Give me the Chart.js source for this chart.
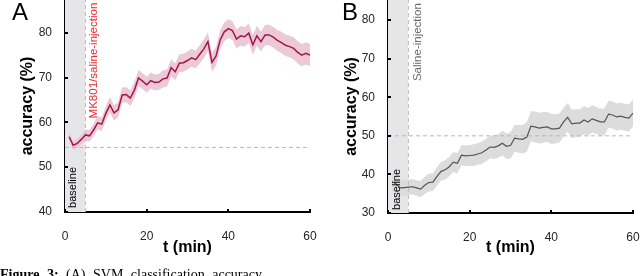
<!DOCTYPE html>
<html>
<head>
<meta charset="utf-8">
<script src="https://cdn.jsdelivr.net/npm/chart.js@4/dist/chart.umd.min.js"></script>
<style>
body{margin:0;background:#fff;width:640px;height:276px;overflow:hidden;position:relative;font-family:'Liberation Sans',Arial,sans-serif}
canvas{position:absolute;top:0}
.letter{position:absolute;top:0;font-size:24px;line-height:24px;color:#000}
.caption{position:absolute;left:0;top:268px;font-family:'Liberation Serif',serif;font-size:14px;line-height:14px;white-space:nowrap;color:#000;word-spacing:4px}
</style>
</head>
<body>
<canvas id="chartA" width="320" height="276" style="left:0"></canvas>
<canvas id="chartB" width="320" height="276" style="left:320px"></canvas>
<div class="letter" style="left:12px">A</div>
<div class="letter" style="left:342px">B</div>
<div class="caption"><b>Figure 3:</b> (A) SVM classification accuracy</div>
<script>

/*=============================================
DATA
=============================================*/

const minutes = [1,2,3,4,5,6,7,8,9,10,11,12,13,14,15,16,17,18,19,20,21,22,23,24,25,26,27,28,29,30,31,32,33,34,35,36,37,38,39,40,41,42,43,44,45,46,47,48,49,50,51,52,53,54,55,56,57,58,59,60]

// panel A, MK801 / saline
const accA = [56.8,54.9,55.3,56.2,57.2,57.0,58.3,59.9,59.6,62.0,63.9,62.1,62.8,66.1,66.2,65.4,67.2,69.9,69.2,68.4,69.3,68.9,69.0,69.7,69.9,72.2,71.3,73.2,73.3,73.8,74.4,74.0,75.2,76.4,78.0,73.4,74.8,78.4,80.2,80.9,80.5,78.6,79.3,79.1,79.9,77.3,79.3,78.0,79.5,79.5,79.0,78.3,77.8,77.2,76.9,76.5,75.6,75.0,75.4,75.0]
const errA = [1.0,1.0,1.0,1.1,1.2,1.3,1.4,1.5,1.5,1.6,1.7,1.7,1.7,1.7,1.7,1.7,1.8,1.8,1.8,1.8,1.8,1.8,1.8,1.9,1.9,1.9,1.9,2.0,2.0,2.0,2.0,2.0,2.0,2.1,2.1,2.1,2.1,2.1,2.1,2.1,2.1,2.1,2.2,2.2,2.2,2.2,2.2,2.2,2.3,2.3,2.3,2.3,2.4,2.4,2.4,2.5,2.5,2.5,2.5,2.5]

// panel B, saline
const accB = [38.1,37.5,36.5,36.6,36.7,36.8,36.5,36.2,37.2,37.9,38.0,39.5,40.8,41.2,42.0,43.2,42.9,45.0,44.8,44.9,45.0,45.3,45.6,46.3,47.1,47.0,47.4,48.1,47.3,47.5,49.4,49.2,49.1,49.7,52.5,52.3,52.0,52.2,52.3,51.8,51.8,52.0,53.6,54.8,53.1,53.3,53.3,54.1,53.6,54.4,54.0,53.6,53.6,55.6,55.4,54.9,55.1,54.8,54.6,55.9]
const errB = [2.6,2.4,2.2,2.1,2.0,2.0,2.0,2.1,2.2,2.3,2.3,2.4,2.4,2.5,2.5,2.6,2.6,2.6,2.7,2.7,2.8,2.8,2.9,2.9,3.0,3.0,3.1,3.2,3.3,3.4,3.5,3.6,3.7,3.8,3.9,4.0,4.0,4.0,3.9,3.9,3.8,3.8,3.7,3.7,3.7,3.6,3.6,3.6,3.6,3.5,3.5,3.5,3.5,3.5,3.5,3.5,3.5,3.5,3.5,3.5]

const xTicks = [0,20,40,60]
const yTicksA = [40,50,60,70,80]
const yTicksB = [30,40,50,60,70,80]

const baselineEnd = 5
const chanceA = 54.4
const chanceB = 50

Chart.defaults.font.family = "'Liberation Sans', Arial, sans-serif"

/*=============================================
PLUGIN: INWARD TICKS + ROTATED LABELS
=============================================*/

const extras = {
    id: 'extras',
    afterDraw: (chart, args, o) => {
        let {ctx, scales: {x, y}} = chart
        ctx.save()
        ctx.strokeStyle = '#000'
        ctx.lineWidth = 2
        y.ticks.forEach(t => {
            let py = Math.round(y.getPixelForValue(t.value))
            ctx.beginPath(); ctx.moveTo(x.left, py); ctx.lineTo(x.left + 3, py); ctx.stroke()
        })
        x.ticks.forEach(t => {
            let px = Math.round(x.getPixelForValue(t.value))
            ctx.beginPath(); ctx.moveTo(px, y.bottom); ctx.lineTo(px, y.bottom - 3); ctx.stroke()
        })
        o.labels.forEach(l => {
            ctx.save()
            ctx.translate(x.getPixelForValue(l.t), y.getPixelForValue(l.v))
            ctx.rotate(-Math.PI / 2)
            ctx.font = l.size + "px 'Liberation Sans', Arial, sans-serif"
            ctx.fillStyle = l.color
            ctx.textAlign = l.align
            ctx.textBaseline = 'middle'
            ctx.fillText(l.text, 0, 0)
            ctx.restore()
        })
        ctx.restore()
    }
}

/*=============================================
PANEL
=============================================*/

const makePanel = (id, p) => {

    let pts = (vals, off, sign) => minutes.map((t, i) => ({x: t, y: vals[i] + (off ? sign * off[i] : 0)}))

    let config = {
        type: 'line',
        data: {
            datasets: [
                {data: pts(p.acc), borderColor: p.line, borderWidth: p.lineWidth, pointRadius: 0, fill: false},
                {data: [{x: 0, y: p.chance}, {x: 60, y: p.chance}], borderColor: '#b8b8b8', borderWidth: 1, borderDash: [4, 3], pointRadius: 0, fill: false},
                {data: [{x: baselineEnd, y: p.min}, {x: baselineEnd, y: p.max}], borderColor: p.inj, borderWidth: 1, borderDash: [4, 3], pointRadius: 0, fill: false},
                {data: pts(p.acc, p.err, 1), borderWidth: 0, pointRadius: 0, fill: '+1', backgroundColor: p.band},
                {data: pts(p.acc, p.err, -1), borderWidth: 0, pointRadius: 0, fill: false},
                {data: [{x: 0, y: p.max}, {x: baselineEnd, y: p.max}], borderWidth: 0, pointRadius: 0, fill: 'start', backgroundColor: '#e6e6e8'}
            ]
        },
        options: {
            responsive: false,
            animation: false,
            layout: {padding: {top: 0, right: p.padRight, bottom: 0, left: 0}},
            plugins: {
                legend: {display: false},
                tooltip: {enabled: false},
                extras: {labels: p.labels}
            },
            scales: {
                x: {
                    type: 'linear', min: 0, max: 60,
                    afterBuildTicks: s => { s.ticks = xTicks.map(v => ({value: v})) },
                    afterFit: s => { s.height = p.xHeight; s.paddingLeft = 0; s.paddingRight = 0 },
                    grid: {display: false},
                    border: {color: '#000', width: 2},
                    ticks: {color: '#262626', font: {size: 12}, padding: 9},
                    title: {display: true, text: 't (min)', color: '#000', font: {size: 16, weight: 'bold'}, padding: {top: 0, bottom: 19}}
                },
                y: {
                    type: 'linear', min: p.min, max: p.max,
                    afterBuildTicks: s => { s.ticks = p.yTicks.map(v => ({value: v})) },
                    afterFit: s => { s.width = p.yWidth; s.paddingTop = 0; s.paddingBottom = 0 },
                    grid: {display: false},
                    border: {color: '#000', width: 2},
                    ticks: {color: '#262626', font: {size: 12}, padding: 5},
                    title: {display: true, text: 'accuracy (%)', color: '#000', font: {size: 16, weight: 'bold'}, padding: {top: p.yTitlePad, bottom: 0}}
                }
            }
        },
        plugins: [extras]
    }

    return new Chart(document.getElementById(id).getContext('2d'), config)
}

makePanel('chartA', {
    acc: accA, err: errA, chance: chanceA,
    min: 40, max: 87.3, yTicks: yTicksA,
    line: '#a3164a', lineWidth: 1.5, band: '#ebcad6', inj: '#f3a3b6',
    padRight: 10, xHeight: 64, yWidth: 65, yTitlePad: 18,
    labels: [
        {text: 'baseline', t: 2.0, v: 40.9, align: 'left', color: '#000', size: 11},
        {text: 'MK801/saline-injection', t: 7.0, v: 86.7, align: 'right', color: '#ee2a2e', size: 11.5}
    ]
})

makePanel('chartB', {
    acc: accB, err: errB, chance: chanceB,
    min: 30, max: 85.2, yTicks: yTicksB,
    line: '#555555', lineWidth: 1.2, band: '#dcdcdc', inj: '#bdbdbd',
    padRight: 7, xHeight: 63, yWidth: 68, yTitlePad: 22,
    labels: [
        {text: 'baseline', t: 2.2, v: 30.8, align: 'left', color: '#000', size: 11},
        {text: 'Saline-injection', t: 7.3, v: 84.4, align: 'right', color: '#6a6a6a', size: 11.5}
    ]
})

</script>
</body>
</html>
